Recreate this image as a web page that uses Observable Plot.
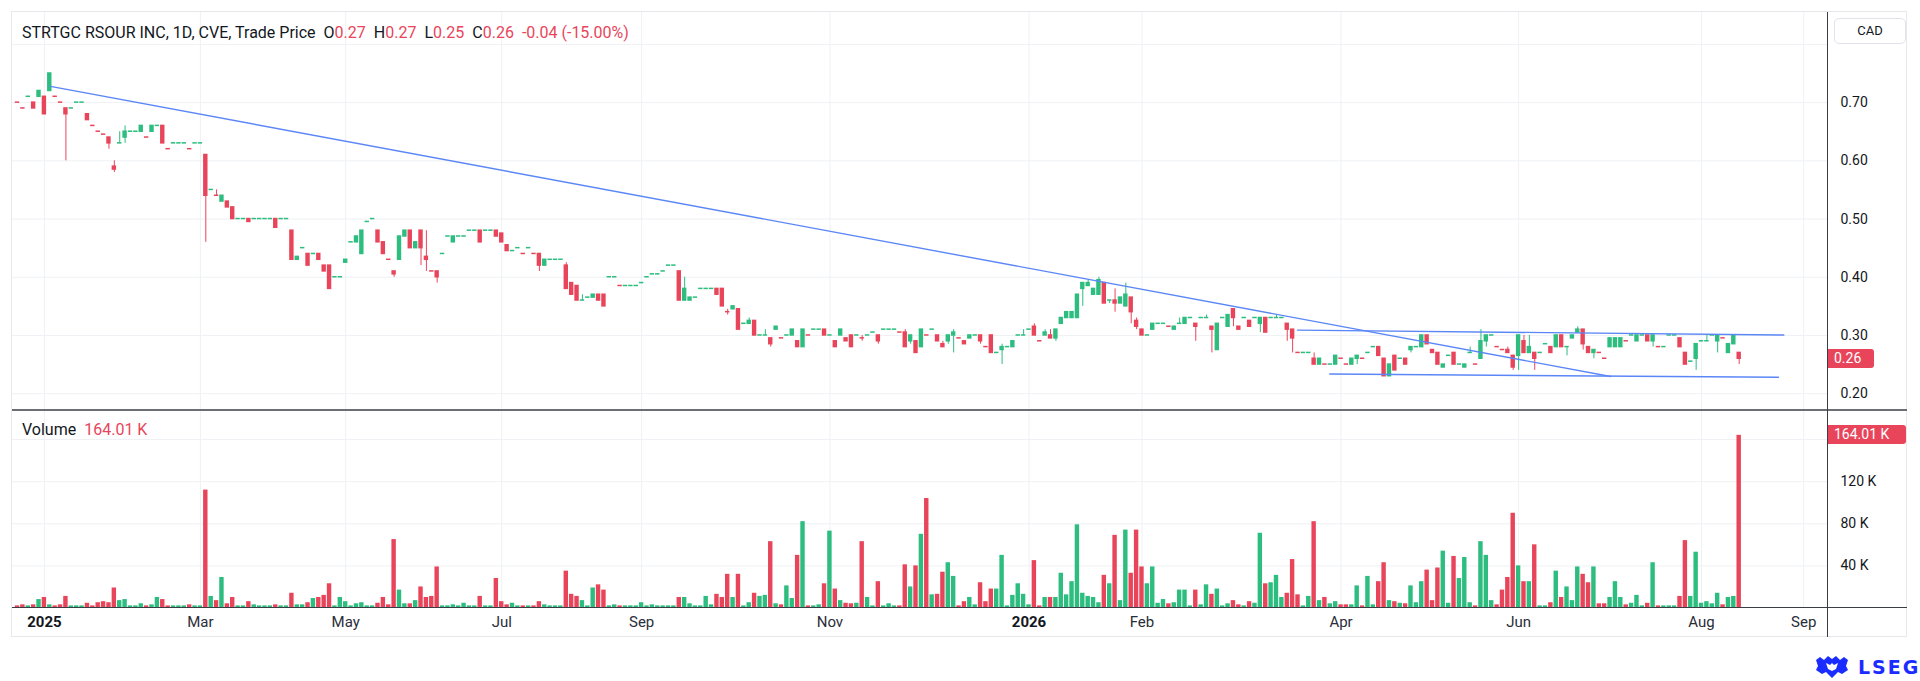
<!DOCTYPE html>
<html><head><meta charset="utf-8">
<script src="https://cdn.jsdelivr.net/npm/d3@7"></script>
<script src="https://cdn.jsdelivr.net/npm/@observablehq/plot@0.6"></script>
<style>
body{margin:0;background:#fff;font-family:Roboto,"Noto Sans",sans-serif;}
#wrap{position:relative;width:1920px;height:681px;overflow:hidden;background:#fff;}
.abs{position:absolute;}
.legend{font-size:16px;line-height:20px;color:#131722;white-space:nowrap;}
.red{color:#e8455b;}
.g{margin-left:8px;}
.tag{position:absolute;background:#e8455b;color:#fff;font-size:14px;line-height:19px;height:19px;padding-left:6px;border-radius:0 3px 3px 0;box-sizing:border-box;}
</style></head><body><div id="wrap"></div>
<script>
// ---- data: one daily bar per traded session (index = bar number) ----
const O=[
.70,.69,.71,.70,.71,.71,.72,.71,.70,.69,
.69,.70,.70,.68,.66,.65,.645,.64,.59,.63,
.64,.65,.65,.65,.64,.65,.66,.66,.62,.63,
.63,.63,.62,.63,.63,.61,.55,.54,.53,.53,
.52,.50,.50,.50,.50,.50,.50,.50,.50,.50,
.50,.48,.43,.45,.44,.44,.44,.42,.42,.40,
.40,.425,.46,.46,.44,.495,.50,.48,.46,.43,
.41,.43,.47,.48,.45,.48,.435,.41,.41,.44,
.47,.46,.47,.47,.48,.48,.48,.48,.48,.48,
.475,.455,.445,.45,.44,.45,.44,.44,.42,.43,
.43,.43,.42,.39,.385,.36,.365,.365,.37,.37,
.40,.40,.385,.385,.385,.385,.39,.40,.405,.405,
.41,.42,.42,.41,.36,.36,.365,.38,.38,.38,
.38,.38,.34,.345,.345,.32,.32,.325,.30,.30,
.295,.31,.295,.30,.30,.29,.28,.30,.31,.31,
.31,.30,.29,.30,.295,.30,.30,.295,.30,.305,
.30,.31,.31,.31,.305,.305,.29,.29,.28,.30,
.31,.30,.285,.29,.30,.295,.29,.295,.30,.30,
.28,.30,.27,.275,.28,.28,.30,.30,.31,.315,
.29,.30,.30,.295,.32,.33,.33,.33,.38,.385,
.37,.37,.39,.36,.36,.355,.35,.365,.325,.31,
.30,.31,.32,.32,.315,.31,.32,.32,.33,.32,
.33,.33,.315,.275,.33,.315,.345,.315,.33,.325,
.33,.32,.33,.33,.33,.33,.32,.31,.27,.27,
.27,.26,.25,.25,.25,.25,.26,.25,.25,.26,
.26,.27,.28,.28,.26,.23,.265,.26,.26,.275,
.28,.28,.30,.275,.27,.245,.265,.27,.25,.245,
.27,.25,.26,.29,.30,.28,.275,.275,.265,.265,
.29,.27,.27,.27,.285,.28,.28,.30,.28,.295,
.305,.31,.28,.27,.27,.26,.28,.28,.28,.29,
.30,.29,.30,.30,.29,.28,.28,.30,.30,.295,
.27,.255,.26,.29,.29,.30,.29,.295,.27,.285,.27];
const H=[
.70,.69,.71,.70,.72,.71,.75,.71,.70,.69,
.69,.70,.70,.68,.66,.65,.645,.64,.60,.65,
.66,.65,.65,.66,.64,.66,.66,.66,.62,.63,
.63,.63,.62,.63,.63,.61,.55,.55,.54,.53,
.52,.50,.50,.50,.50,.50,.50,.50,.50,.50,
.50,.48,.435,.45,.44,.44,.44,.42,.42,.40,
.40,.43,.46,.47,.48,.495,.50,.48,.46,.43,
.41,.47,.48,.48,.46,.48,.48,.41,.41,.44,
.47,.47,.47,.47,.48,.48,.48,.48,.48,.48,
.475,.455,.445,.45,.44,.45,.44,.44,.43,.43,
.43,.43,.425,.39,.385,.37,.365,.37,.37,.37,
.40,.40,.385,.385,.385,.385,.39,.40,.405,.405,
.41,.42,.42,.41,.40,.365,.365,.38,.38,.38,
.38,.38,.345,.35,.345,.32,.33,.325,.30,.31,
.295,.315,.295,.30,.31,.29,.31,.30,.31,.31,
.31,.30,.29,.31,.295,.30,.30,.30,.30,.305,
.30,.31,.31,.31,.305,.31,.30,.29,.31,.30,
.31,.30,.29,.30,.31,.295,.29,.30,.30,.30,
.28,.30,.27,.285,.28,.29,.30,.31,.31,.32,
.29,.31,.31,.31,.33,.34,.34,.37,.39,.395,
.38,.40,.39,.36,.38,.365,.39,.365,.33,.31,
.30,.32,.32,.32,.315,.315,.33,.33,.33,.32,
.33,.335,.315,.32,.33,.335,.345,.315,.33,.325,
.33,.33,.33,.33,.335,.33,.32,.31,.27,.27,
.27,.27,.26,.25,.25,.265,.26,.25,.26,.265,
.26,.27,.28,.28,.26,.25,.265,.26,.26,.28,
.28,.30,.30,.275,.27,.25,.265,.27,.25,.25,
.28,.25,.31,.30,.30,.28,.275,.28,.265,.30,
.30,.30,.27,.27,.285,.28,.30,.30,.28,.30,
.315,.31,.28,.275,.27,.26,.295,.295,.295,.29,
.30,.30,.30,.30,.30,.28,.28,.30,.30,.295,
.27,.255,.285,.29,.30,.30,.30,.295,.285,.30,.27];
const L=[
.70,.69,.71,.69,.71,.68,.72,.71,.70,.60,
.69,.70,.70,.67,.66,.65,.645,.62,.58,.63,
.63,.65,.65,.65,.64,.65,.66,.63,.62,.63,
.63,.63,.62,.63,.63,.46,.55,.54,.53,.52,
.50,.50,.50,.495,.50,.50,.50,.50,.485,.50,
.50,.43,.43,.45,.42,.44,.43,.41,.38,.40,
.40,.425,.46,.46,.44,.495,.50,.46,.44,.43,
.40,.43,.47,.45,.45,.42,.41,.41,.39,.44,
.47,.46,.47,.47,.48,.48,.46,.48,.48,.47,
.46,.445,.445,.45,.44,.45,.44,.41,.42,.43,
.43,.43,.38,.37,.36,.36,.365,.365,.36,.35,
.40,.40,.385,.385,.385,.385,.39,.40,.405,.405,
.41,.42,.42,.36,.36,.36,.365,.38,.38,.38,
.37,.35,.335,.345,.31,.32,.32,.30,.30,.30,
.28,.31,.295,.30,.30,.28,.28,.30,.31,.31,
.30,.30,.28,.30,.29,.28,.30,.29,.30,.305,
.285,.31,.31,.31,.305,.28,.285,.27,.28,.30,
.31,.29,.28,.285,.27,.295,.285,.295,.30,.285,
.28,.27,.27,.25,.28,.28,.30,.30,.31,.30,
.29,.30,.295,.29,.32,.33,.33,.33,.35,.385,
.37,.37,.355,.355,.34,.355,.35,.32,.31,.30,
.30,.31,.32,.32,.315,.31,.32,.32,.33,.29,
.33,.33,.27,.275,.33,.315,.315,.31,.33,.315,
.33,.305,.305,.33,.33,.33,.29,.27,.27,.27,
.27,.25,.25,.25,.25,.25,.26,.25,.25,.25,
.26,.27,.28,.265,.23,.23,.24,.26,.25,.27,
.28,.28,.285,.27,.25,.245,.265,.25,.25,.245,
.27,.25,.26,.28,.30,.28,.275,.27,.24,.24,
.27,.27,.24,.27,.285,.27,.28,.28,.265,.295,
.305,.275,.27,.26,.27,.26,.28,.28,.28,.29,
.30,.29,.30,.29,.28,.28,.28,.30,.30,.28,
.25,.255,.24,.29,.29,.30,.27,.295,.27,.285,.25];
const C=[
.70,.69,.71,.69,.72,.68,.75,.71,.70,.68,
.69,.70,.70,.67,.66,.65,.645,.63,.585,.63,
.65,.65,.65,.66,.64,.66,.66,.63,.62,.63,
.63,.63,.62,.63,.63,.54,.55,.54,.54,.52,
.50,.50,.50,.495,.50,.50,.50,.50,.485,.50,
.50,.43,.435,.45,.42,.44,.43,.41,.38,.40,
.40,.43,.46,.47,.48,.495,.50,.46,.44,.43,
.405,.47,.48,.45,.46,.45,.43,.41,.40,.44,
.47,.47,.47,.47,.48,.48,.46,.48,.48,.47,
.46,.445,.445,.45,.44,.45,.44,.42,.43,.43,
.43,.43,.38,.37,.36,.36,.365,.37,.36,.35,
.40,.40,.385,.385,.385,.385,.39,.40,.405,.405,
.41,.42,.42,.36,.38,.365,.365,.38,.38,.38,
.37,.35,.34,.35,.31,.32,.325,.30,.30,.30,
.285,.315,.295,.30,.31,.28,.31,.30,.31,.31,
.30,.30,.28,.31,.29,.28,.30,.295,.30,.305,
.29,.31,.31,.31,.305,.28,.30,.27,.31,.30,
.31,.29,.28,.30,.305,.295,.285,.30,.30,.29,
.28,.27,.27,.28,.28,.29,.30,.30,.31,.30,
.29,.305,.295,.31,.33,.34,.34,.37,.39,.39,
.38,.395,.355,.36,.355,.365,.37,.34,.315,.30,
.30,.32,.32,.32,.315,.315,.32,.33,.33,.315,
.33,.33,.31,.32,.33,.335,.33,.31,.33,.315,
.33,.33,.305,.33,.33,.33,.31,.295,.27,.27,
.27,.25,.26,.25,.25,.265,.26,.25,.26,.265,
.26,.27,.28,.265,.23,.25,.24,.26,.25,.28,
.28,.30,.285,.27,.25,.25,.265,.25,.25,.25,
.27,.25,.29,.30,.30,.28,.275,.27,.245,.30,
.27,.28,.26,.27,.285,.27,.30,.28,.28,.30,
.31,.285,.27,.275,.27,.26,.295,.295,.295,.29,
.30,.30,.30,.29,.30,.28,.28,.30,.30,.28,
.25,.255,.285,.29,.29,.30,.30,.295,.285,.30,.26];
// volume in thousands of shares
const V=[
2,3,2,3,8,10,3,2,3,11,
2,2,2,4.5,2,5,6,5,19,7,
8,2,2,4,2,3,10,8,2,2,
2,2,3,2,2,112,11,7,29,4,
10,2,2,6,3,2,2,2,3,2,
2,14,3,3,5,9,10,12,23,2,
10,6,2,4,5,2,2,4.5,10,3,
65,17,4,4,7,20,10,11,39,2,
2,3,2,4.5,2,2,11,2,2,28,
6,3,4.5,2,2,2,2,6,3,2,
2,2,35,13,11,7,2,19,22,17,
2,3,2,2,2,2,5,2,3,2,
2,2,2,10,10,4,2,2,11,3,
13,10,32,10,32,2,5,14,11,12,
63,4,3,21,9,50,82,2,2,3,
23,73,18,7,4.5,4,4.5,63,10,2,
25,2,4,2,2,41,20,40,70,104,
12.5,13,34,43,30,2,6,10,3,24,
6,18,18,50,2,12,23,13,3,45,
2,10,10,10,33,12.5,25,79,14,11,
10,5,31,23,69,7,74,33,74,39,
23,39,4.5,8,4,5,17,17,2,17,
3,22,13,18,2,4,7,3,2,6,
4.5,71,23,24,31,10,14,46,12.5,2,
11,82,7,10,4,6,3,3,3,21,
2,30,3,25,43,7,6,4.5,4,21,
5,25,36,7,38,54,4.5,49,28,48,
5,2,63,50,7,3,17,29,90,40,
25,25,60,2,2,5,35,10,20,7,
39,32,24,39,4,4,10,25,10,3,
4.5,12,2,4.5,43,2,2,2,2,11,
64,11,53,4.5,6,4,14,3,10,11,164.01];

const tickBars=[5,34,61,90,116,151,188,209,246,279,313,332];
const tickLabels=["2025","Mar","May","Jul","Sep","Nov","2026","Feb","Apr","Jun","Aug","Sep"];
const priceTicks=[0.2,0.3,0.4,0.5,0.6,0.7];
const priceGrid=[0.2,0.3,0.4,0.5,0.6,0.7,0.8];
const volTicks=[40000,80000,120000];
const volGrid=[40000,80000,120000,160000];
// drawn trend lines: [bar index, price]
const trendDown=[[6.13,0.728],[296.1,0.2295]];
const trendTop=[[237.9,0.3092],[328.3,0.3007]];
const trendBottom=[[243.9,0.2337],[327.3,0.2282]];
const lastPrice=0.26, lastVolume=164.01;

const UP="#2cbd7f", DOWN="#e8455b", GRID="#eff1f4", BLUE="#5b87f6";
const bars=O.map((o,i)=>{
  const c=C[i];
  let up = c>o ? true : c<o ? false : (i>0 ? c>=C[i-1] : false);
  return {i,o,h:H[i],l:L[i],c,v:V[i]*1000,col:up?UP:DOWN};
});
const ticks=tickBars.map((b,k)=>({b,label:tickLabels[k],year:/^\d{4}$/.test(tickLabels[k])}));

const FONT='Roboto, "Noto Sans", sans-serif';
const xOpt={type:"linear",domain:[-0.929,336.6],axis:null};
const wrap=document.getElementById("wrap");

const price=Plot.plot({
  width:1895,height:398,marginLeft:0,marginRight:79,marginTop:0,marginBottom:0,
  x:xOpt, y:{type:"linear",domain:[0.1711,0.8548],axis:null},
  color:{type:"identity"},
  style:{background:"transparent",fontFamily:FONT,fontSize:"14px",color:"#131722",overflow:"visible"},
  marks:[
    Plot.ruleY(priceGrid,{stroke:GRID,strokeWidth:1}),
    Plot.ruleX(tickBars,{stroke:GRID,strokeWidth:1}),
    Plot.ruleX(bars,{x:"i",y1:"l",y2:"h",stroke:d=>d.col,strokeWidth:1}),
    Plot.rect(bars,{x1:d=>d.i-0.41,x2:d=>d.i+0.41,y1:"o",y2:"c",fill:d=>d.col,insetTop:-0.75,insetBottom:-0.75}),
    Plot.line(trendDown,{x:d=>d[0],y:d=>d[1],stroke:BLUE,strokeWidth:1.4}),
    Plot.line(trendTop,{x:d=>d[0],y:d=>d[1],stroke:BLUE,strokeWidth:1.4}),
    Plot.line(trendBottom,{x:d=>d[0],y:d=>d[1],stroke:BLUE,strokeWidth:1.4}),
    Plot.axisY({ticks:priceTicks,anchor:"right",label:null,tickSize:0,tickPadding:12,tickFormat:d=>d.toFixed(2),fontSize:14,fill:"#131722"})
  ]
});
price.style.position="absolute";price.style.left="12px";price.style.top="12px";
wrap.appendChild(price);

const vol=Plot.plot({
  width:1895,height:227,marginLeft:0,marginRight:79,marginTop:0,marginBottom:29.5,
  x:xOpt, y:{type:"linear",domain:[0,187600],axis:null},
  color:{type:"identity"},
  style:{background:"transparent",fontFamily:FONT,fontSize:"14px",color:"#131722",overflow:"visible"},
  marks:[
    Plot.ruleY(volGrid,{stroke:GRID,strokeWidth:1}),
    Plot.ruleX(tickBars,{stroke:GRID,strokeWidth:1}),
    Plot.rect(bars,{x1:d=>d.i-0.41,x2:d=>d.i+0.41,y1:0,y2:"v",fill:d=>d.col}),
    Plot.axisY({ticks:volTicks,anchor:"right",label:null,tickSize:0,tickPadding:12,tickFormat:d=>(d/1000)+" K",fontSize:14,fill:"#131722"}),
    Plot.text(ticks.filter(d=>d.year),{x:"b",text:"label",frameAnchor:"bottom",dy:18.5,fontWeight:"bold",fontSize:15,fill:"#131722"}),
    Plot.text(ticks.filter(d=>!d.year),{x:"b",text:"label",frameAnchor:"bottom",dy:18.5,fontSize:15,fill:"#2a2e39"})
  ]
});
vol.style.position="absolute";vol.style.left="12px";vol.style.top="410px";
wrap.appendChild(vol);

function div(css,html){const d=document.createElement("div");d.className="abs";d.style.cssText+=css;if(html!=null)d.innerHTML=html;wrap.appendChild(d);return d;}
// frame and pane separators
div("left:11px;top:11px;width:1896px;height:626px;border:1px solid #e6e8ec;box-sizing:border-box;");
div("left:12px;top:409px;width:1895px;height:2px;background:#6b6e75;");
div("left:12px;top:607px;width:1895px;height:1px;background:#3a3d44;");
div("left:1827px;top:12px;width:1px;height:625px;background:#3a3d44;");
// legends
div("left:22px;top:23px;","<div class='legend'>STRTGC RSOUR INC, 1D, CVE, Trade Price<span class='g'>O<span class='red'>0.27</span></span><span class='g'>H<span class='red'>0.27</span></span><span class='g'>L<span class='red'>0.25</span></span><span class='g'>C<span class='red'>0.26</span></span><span class='g red'>-0.04 (-15.00%)</span></div>");
div("left:22px;top:420px;","<div class='legend'>Volume<span class='g red'>164.01 K</span></div>");
// currency box
div("left:1834px;top:18px;width:72px;height:26px;border:1px solid #e0e3eb;border-radius:5px;box-sizing:border-box;font-size:13px;line-height:24px;text-align:center;color:#131722;","CAD");
// last value tags positioned via the plots' scales
const py=price.scale("y").apply(lastPrice)+12;
const t1=document.createElement("div");t1.className="tag";t1.style.left="1828px";t1.style.top=(py-9.5)+"px";t1.style.width="46px";t1.textContent=lastPrice.toFixed(2);wrap.appendChild(t1);
const vy=vol.scale("y").apply(lastVolume*1000)+410;
const t2=document.createElement("div");t2.className="tag";t2.style.left="1828px";t2.style.top=(vy-9.5)+"px";t2.style.width="78px";t2.textContent=lastVolume.toFixed(2)+" K";wrap.appendChild(t2);
// LSEG mark
div("left:1814px;top:656px;","<svg width='36' height='22' viewBox='0 0 36 22'><path d='M2 4 L6 1 L10 4 L14 0 L18 3 L22 0 L26 4 L30 1 L34 4 L32 10 L34 14 L28 18 L24 16 L18 22 L12 16 L8 18 L2 14 L4 10 Z' fill='#1a2cff'/><path d='M12 7 L16 9 L18 7 L20 9 L24 7 L22 13 L18 15 L14 13 Z' fill='#fff'/></svg>");
div("left:1858px;top:655px;font-size:19px;line-height:24px;font-weight:bold;letter-spacing:2px;color:#1a2cff;font-family:'DejaVu Sans',sans-serif;","LSEG");
</script>
</body></html>
